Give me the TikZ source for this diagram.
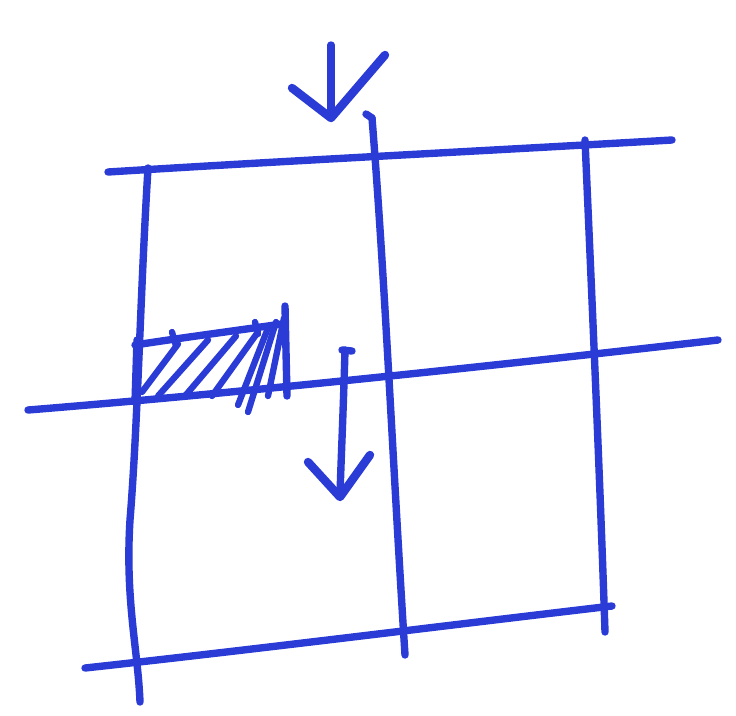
\documentclass[tikz,border=0pt]{standalone}
\usepackage{tikz}
\usetikzlibrary{calc}
\definecolor{penblue}{HTML}{2A3BD6}
\tikzset{
  pen/.style={draw=penblue,line width=2.1pt,line cap=round,line join=round},
  hatch/.style={draw=penblue,line width=1.8pt,line cap=round},
  headarm/.style={draw=penblue,line width=2.4pt,line cap=round,line join=round},
}
\begin{document}
\begin{tikzpicture}[x=0.1mm,y=-0.1mm]
  \useasboundingbox (0,0) rectangle (736,715);
  % grid lines
  \draw[pen] (108,172) .. controls (300,160) and (500,150) .. (672,140);
  \draw[pen] (28,410) .. controls (250,392) and (500,365) .. (718,340);
  \draw[pen] (85,668) .. controls (250,650) and (450,625) .. (612,606);
  \draw[pen] (148,168) .. controls (140,300) and (138,420) .. (130,520)
    .. controls (125,600) and (138,650) .. (140,702);
  \draw[pen] (366,114) -- (372,118);
  \draw[pen] (372,118) .. controls (385,280) and (392,450) .. (405,655);
  \draw[pen] (585,140) .. controls (592,300) and (600,480) .. (605,632);
  % hatched block
  \draw[pen] (135,345) .. controls (180,338) and (240,330) .. (282,324);
  \draw[pen] (285,306) -- (287,396);
  \draw[pen] (137,340) -- (135,402);
  \foreach \xa/\ya/\xb/\yb in {142/392/178/344, 158/396/208/340, 185/396/236/336,
                               212/396/258/332, 238/405/268/328, 248/412/276/322,
                               268/396/284/318}
    \draw[hatch] (\xa,\ya) -- (\xb,\yb);
  \draw[hatch] (172,332) -- (176,346);
  \draw[hatch] (255,322) -- (258,334);
  % top arrow
  \draw[pen] (331,45) -- (331,117);
  \draw[headarm] (292,88) -- (331,118) -- (385,55);
  % middle arrow
  \draw[pen] (342,350) -- (352,351);
  \draw[pen] (345,350) .. controls (343,420) and (341,460) .. (340,495);
  \draw[headarm] (308,462) -- (340,497) -- (370,455);
\end{tikzpicture}
\end{document}
